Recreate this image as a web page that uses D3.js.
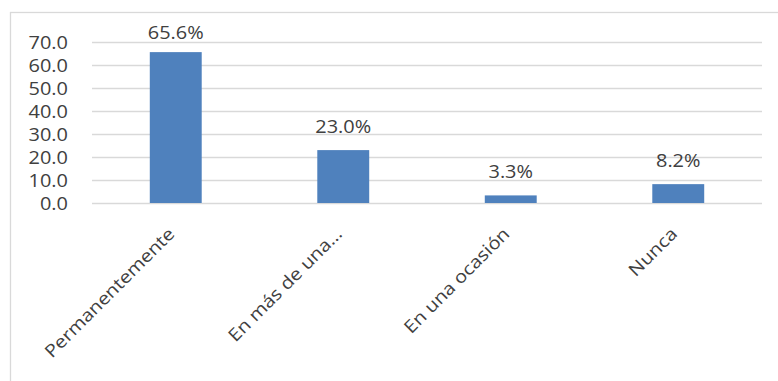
<!DOCTYPE html>
<html>
<head>
<meta charset="utf-8">
<script src="https://cdn.jsdelivr.net/npm/d3@7"></script>
<style>
  html, body { margin: 0; padding: 0; background: #fff; }
  svg text { font-family: "Open Sans", "Noto Sans", sans-serif; fill: #404040; }
</style>
</head>
<body>
<svg id="chart" width="778" height="381"></svg>
<script>
const categories = ["Permanentemente", "En más de una…", "En una ocasión", "Nunca"];
const values = [65.6, 23.0, 3.3, 8.2];
const valueLabels = ["65.6%", "23.0%", "3.3%", "8.2%"];
const yTicks = [0, 10, 20, 30, 40, 50, 60, 70];

const svg = d3.select("#chart");
const W = 778, H = 381;
const plot = { left: 92, right: 762, top: 42, bottom: 203 };
const fontSize = 17.5;
const stretch = "scale(1.14,1)"; // slightly wide lettering

// chart frame
svg.append("rect")
  .attr("x", 10.5).attr("y", 12.5)
  .attr("width", W + 20).attr("height", H + 20)
  .attr("fill", "none").attr("stroke", "#d9d9d9").attr("stroke-width", 1.3);

const x = d3.scaleBand().domain(categories).range([plot.left, plot.right]).paddingInner(0.69).paddingOuter(0.345);
const y = d3.scaleLinear().domain([0, 70]).range([plot.bottom, plot.top]);

// horizontal gridlines
svg.append("g").selectAll("line").data(yTicks).join("line")
  .attr("x1", plot.left).attr("x2", plot.right)
  .attr("y1", d => Math.round(y(d)) + 0.5).attr("y2", d => Math.round(y(d)) + 0.5)
  .attr("stroke", "#d9d9d9").attr("stroke-width", 1.3);

// y axis labels (axis generator places the ticks; text is restyled)
const yAxis = d3.axisLeft(y).tickValues(yTicks).tickFormat(d3.format(".1f")).tickSize(0).tickPadding(0);
const gy = svg.append("g").attr("transform", `translate(${plot.left - 24},0)`).call(yAxis);
gy.select(".domain").remove();
gy.selectAll("text")
  .attr("x", null)
  .attr("font-size", fontSize).attr("font-family", null).attr("fill", "#404040")
  .attr("dy", "0.36em")
  .attr("transform", stretch);

// bars
svg.append("g").selectAll("rect").data(values).join("rect")
  .attr("x", (d, i) => x(categories[i]))
  .attr("width", x.bandwidth())
  .attr("y", d => y(d))
  .attr("height", d => y(0) - y(d))
  .attr("fill", "#4f81bd");

// value labels above bars, kept inside the top of the chart
svg.append("g").selectAll("text").data(values).join("text")
  .attr("text-anchor", "middle")
  .attr("font-size", fontSize)
  .attr("transform", (d, i) => `translate(${x(categories[i]) + x.bandwidth() / 2},${Math.max(y(d) - 17, plot.top - 3)}) ${stretch}`)
  .text((d, i) => valueLabels[i]);

// category labels, rotated
svg.append("g").selectAll("text").data(categories).join("text")
  .attr("text-anchor", "end")
  .attr("font-size", fontSize)
  .attr("transform", d => `translate(${x(d) + x.bandwidth() / 2},${plot.bottom + 32}) rotate(-45) ${stretch}`)
  .text(d => d);
</script>
</body>
</html>
